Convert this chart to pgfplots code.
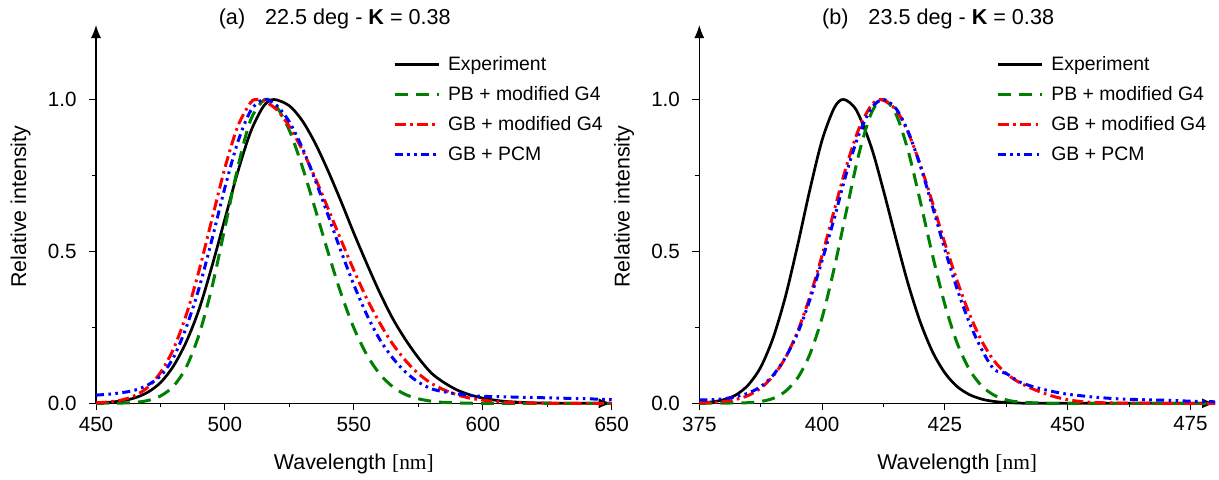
\documentclass[border=0pt]{standalone}
\usepackage{fontspec}
\setmainfont{Liberation Sans}
\newfontfamily\seriffont{Liberation Serif}
\usepackage{pgfplots}
\pgfplotsset{compat=1.18}
\usetikzlibrary{arrows.meta}
\definecolor{dgreen}{RGB}{0,128,0}
\pgfplotsset{
  myaxis/.style={
    scale only axis, width=257.85pt, height=189.15pt,
    ymin=0, ymax=1.245, clip=false,
    axis lines=left,
    axis line style={line width=0.6pt, -{Latex[length=6.5pt,width=5pt]}},
    tick align=outside, major tick length=3.5pt, minor tick length=2pt,
    every tick/.style={black, line width=0.5pt},
    ytick={0,0.5,1}, minor ytick={0.25,0.75},
    minor x tick num=1,
    tick label style={font=\fontsize{10.3}{12}\selectfont},
    /pgf/number format/assume math mode=true,
    yticklabel style={anchor=east, inner sep=0pt, /pgf/number format/.cd, fixed, fixed zerofill, precision=1},
    xticklabel style={anchor=north, inner sep=0pt},
    xticklabel shift=3pt, yticklabel shift=6pt,
    ylabel={Relative intensity},
    xlabel={Wavelength {\seriffont[nm]}},
    label style={font=\fontsize{10.7}{12}\selectfont},
    ylabel style={at={(axis description cs:-0.146,0.52)}, anchor=center},
    xlabel style={at={(axis description cs:0.5,-0.1605)}, anchor=center},
    legend image code/.code={\draw[##1] (0pt,0pt) -- (22pt,0pt);},
    legend cell align=left,
    legend style={draw=none, fill=none, at={(0.576,0.935)}, anchor=north west,
      inner sep=0pt, outer sep=0pt, row sep=0pt,
      font=\fontsize{9.7}{11}\selectfont,
      nodes={inner xsep=4pt, inner ysep=2.5pt, text height=8pt, text depth=2pt}},
  },
  sexp/.style={black, line width=1.35pt, smooth},
  spb/.style={dgreen, line width=1.5pt, dash pattern=on 6.5pt off 4pt, smooth},
  sgb/.style={red, line width=1.5pt, dash pattern=on 5.5pt off 2.2pt on 1.3pt off 2.2pt, smooth},
  spcm/.style={blue, line width=1.5pt, dash pattern=on 4pt off 2.2pt on 1.3pt off 2.2pt on 1.3pt off 2.2pt, smooth},
}
\begin{document}
\begin{tikzpicture}[font=\fontsize{10.5}{12}\selectfont]
\useasboundingbox (0,0) rectangle (609.5pt,239.5pt);
\begin{axis}[myaxis, at={(48pt,37.85pt)}, anchor=south west,
  xmin=450, xmax=650, xtick={450,500,...,650}]
\addplot[sexp] coordinates {(450,0.0014)(455,0.0034)(460,0.0082)(465,0.0177)(470,0.036)(475,0.068)(480,0.122)(485,0.202)(490,0.310)(495,0.452)(500,0.607)(505,0.762)(510,0.894)(515,0.978)(519,1.0)(525,0.979)(530,0.930)(535,0.856)(540,0.765)(545,0.665)(550,0.560)(555,0.460)(560,0.365)(565,0.280)(570,0.210)(575,0.150)(580,0.100)(585,0.068)(590,0.044)(595,0.028)(600,0.017)(605,0.010)(610,0.0055)(620,0.0015)(630,0.0005)(640,0)(650,0)};
\addlegendentry{Experiment}
\addplot[spb] coordinates {(450,0)(460,0.0009)(465,0.003)(470,0.009)(475,0.024)(480,0.056)(485,0.119)(490,0.227)(495,0.383)(500,0.578)(505,0.777)(510,0.933)(515.5,1)(520,0.976)(525,0.898)(530,0.779)(535,0.640)(540,0.497)(545,0.362)(550,0.248)(555,0.160)(560,0.097)(565,0.055)(570,0.029)(575,0.015)(580,0.007)(585,0.003)(590,0.0014)(600,0)(650,0)};
\addlegendentry{PB + modified G4}
\addplot[sgb] coordinates {(450,0.0017)(455,0.0045)(460,0.011)(465,0.025)(470,0.052)(475,0.101)(480,0.178)(485,0.291)(490,0.438)(495,0.607)(500,0.775)(505,0.912)(510,0.99)(512.5,1)(515,0.996)(520,0.967)(525,0.911)(530,0.834)(535,0.742)(540,0.641)(545,0.538)(550,0.438)(555,0.345)(560,0.265)(565,0.196)(570,0.141)(575,0.098)(580,0.066)(585,0.044)(590,0.028)(595,0.017)(600,0.0105)(605,0.006)(610,0.0035)(620,0.001)(630,0)(650,0)};
\addlegendentry{GB + modified G4}
\addplot[spcm] coordinates {(450,0.027)(455,0.030)(460,0.035)(465,0.043)(470,0.060)(475,0.090)(480,0.150)(485,0.25)(490,0.38)(495,0.54)(500,0.71)(505,0.86)(510,0.963)(515,1)(520,0.981)(525,0.926)(530,0.841)(535,0.735)(540,0.619)(545,0.501)(550,0.390)(555,0.292)(560,0.211)(565,0.15)(570,0.103)(575,0.07)(580,0.048)(585,0.038)(590,0.031)(595,0.026)(600,0.023)(610,0.021)(620,0.019)(630,0.017)(640,0.015)(650,0.012)};
\addlegendentry{GB + PCM}
\node[font=\fontsize{10.8}{12}\selectfont, anchor=center] at (rel axis cs:0.463,1.016) {(a)\hspace{10pt}22.5 deg - \textbf{K} = 0.38};
\end{axis}
\begin{axis}[myaxis, at={(349.65pt,37.85pt)}, anchor=south west,
  xmin=375, xmax=480, xtick={375,400,...,475}]
\addplot[sexp] coordinates {(375,0.0016)(377.5,0.0046)(380,0.012)(382.5,0.028)(385,0.061)(387.5,0.119)(390,0.214)(392.5,0.349)(395,0.519)(397.5,0.702)(400,0.866)(402.5,0.973)(404.4,1)(407,0.964)(410,0.844)(412.5,0.700)(415,0.544)(417.5,0.394)(420,0.267)(422.5,0.169)(425,0.100)(427.5,0.055)(430,0.0286)(432.5,0.0138)(435,0.0062)(437.5,0.0026)(440,0.001)(445,0)(480,0)};
\addlegendentry{Experiment}
\addplot[spb] coordinates {(375,0)(385,0.002)(387.5,0.006)(390,0.016)(392.5,0.039)(395,0.083)(397.5,0.161)(400,0.282)(402.5,0.447)(405,0.637)(407.5,0.821)(410,0.954)(412.4,1)(415,0.953)(417.5,0.832)(420,0.664)(422.5,0.486)(425,0.325)(427.5,0.198)(430,0.111)(432.5,0.057)(435,0.027)(437.5,0.0115)(440,0.0045)(445,0.0005)(450,0)(480,0)};
\addlegendentry{PB + modified G4}
\addplot[sgb] coordinates {(375,0.001)(377.5,0.0026)(380,0.006)(382.5,0.013)(385,0.026)(387.5,0.050)(390,0.089)(392.5,0.149)(395,0.236)(397.5,0.35)(400,0.487)(402.5,0.637)(405,0.783)(407.5,0.904)(410,0.98)(412,1)(415,0.967)(417.5,0.892)(420,0.785)(422.5,0.659)(425,0.527)(427.5,0.403)(430,0.294)(432.5,0.205)(435,0.14)(437.5,0.098)(440,0.07)(442.5,0.05)(445,0.034)(447.5,0.021)(450,0.012)(452.5,0.006)(455,0.003)(460,0.001)(470,0)(480,0)};
\addlegendentry{GB + modified G4}
\addplot[spcm] coordinates {(375,0.011)(377.5,0.012)(380,0.015)(382.5,0.022)(385,0.034)(387.5,0.055)(390,0.092)(392.5,0.15)(395,0.23)(397.5,0.34)(400,0.47)(402.5,0.61)(405,0.76)(407.5,0.885)(410,0.97)(412.4,1)(415,0.971)(417.5,0.895)(420,0.781)(422.5,0.646)(425,0.506)(427.5,0.376)(430,0.265)(432.5,0.177)(435,0.112)(437.5,0.098)(440,0.072)(442.5,0.057)(445,0.046)(447.5,0.037)(450,0.030)(455,0.021)(460,0.015)(465,0.012)(470,0.010)(475,0.007)(480,0.005)};
\addlegendentry{GB + PCM}
\node[font=\fontsize{10.8}{12}\selectfont, anchor=center] at (rel axis cs:0.463,1.016) {(b)\hspace{10pt}23.5 deg - \textbf{K} = 0.38};
\end{axis}
\end{tikzpicture}
\end{document}
